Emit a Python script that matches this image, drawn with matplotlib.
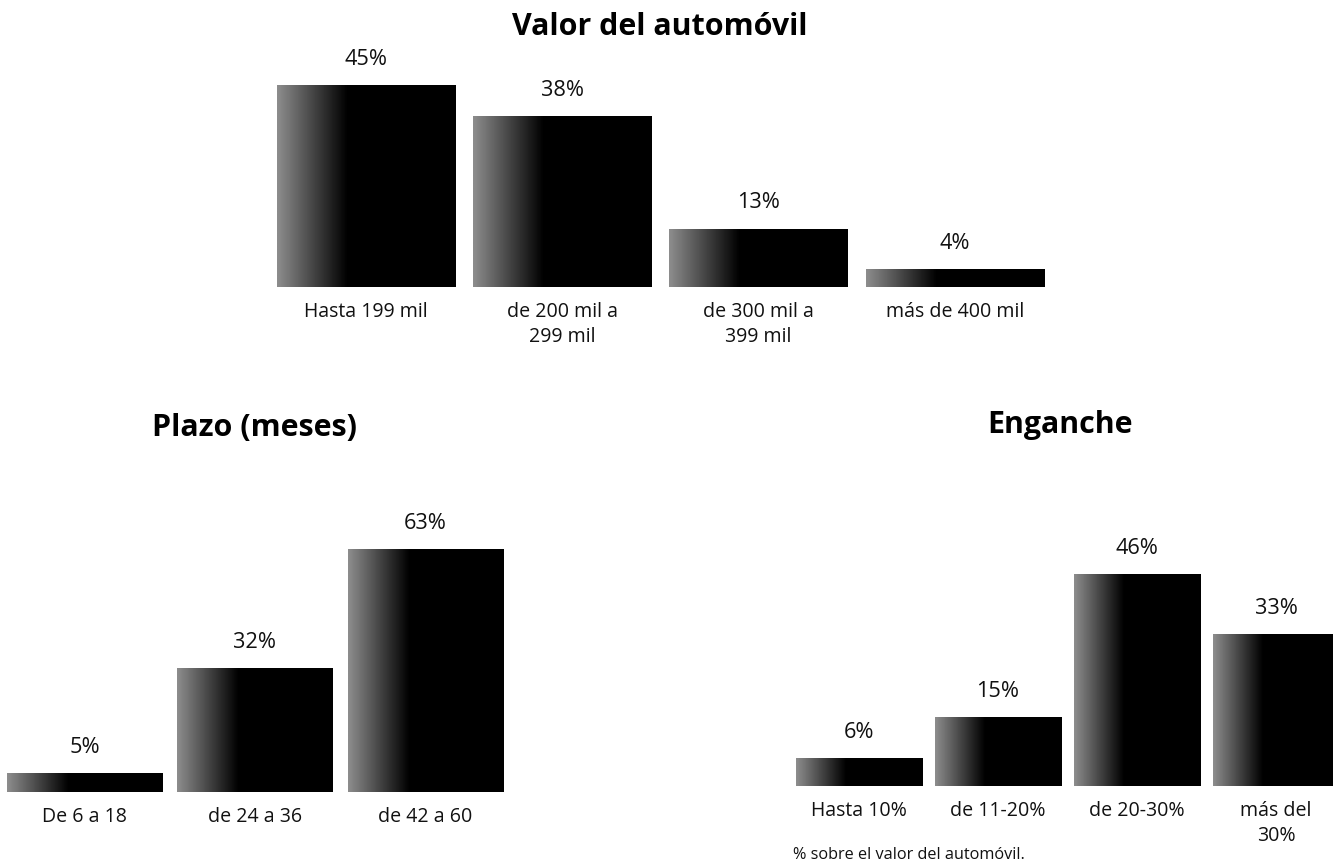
import numpy as np
import matplotlib
matplotlib.use("Agg")
import matplotlib.pyplot as plt

plt.rcParams['font.family'] = ['Open Sans', 'DejaVu Sans']

# ---- data ----
valor_cats = ["Hasta 199 mil", "de 200 mil a\n299 mil", "de 300 mil a\n399 mil", "más de 400 mil"]
valor_vals = [45, 38, 13, 4]

plazo_cats = ["De 6 a 18", "de 24 a 36", "de 42 a 60"]
plazo_vals = [5, 32, 63]

enganche_cats = ["Hasta 10%", "de 11-20%", "de 20-30%", "más del\n30%"]
enganche_vals = [6, 15, 46, 33]

titles = ["Valor del automóvil", "Plazo (meses)", "Enganche"]
footnote = "% sobre el valor del automóvil."

W, H = 1333, 863
fig = plt.figure(figsize=(W / 100, H / 100), dpi=100)
fig.patch.set_facecolor("white")
renderer = fig.canvas.get_renderer()


def fit_size(text, target_px, weight="normal"):
    t = fig.text(0, 0, text, fontsize=10, fontweight=weight)
    w = t.get_window_extent(renderer).width
    t.remove()
    return 10 * target_px / w


TITLE_FS = fit_size("Enganche", 146, "bold")
VAL_FS = fit_size("45%", 43)
CAT_FS = fit_size("De 6 a 18", 85)
NOTE_FS = fit_size(footnote, 232)


def px_axes(left, right, bottom, top):
    return fig.add_axes([left / W, 1 - bottom / H, (right - left) / W, (bottom - top) / H])


grad = np.concatenate([np.linspace(0.55, 0.0, 40), np.zeros(60)])[None, :]


def draw(ax, cats, vals, ymax, lab_off=14.5, cat_off=21.5, line_pt=18):
    x = np.arange(len(vals))
    bars = ax.bar(x, vals, width=0.91, color="black", zorder=1)
    for b in bars:
        x0, y0 = b.get_x(), b.get_y()
        im = ax.imshow(grad, cmap="gray", vmin=0, vmax=1, aspect="auto",
                       extent=(x0, x0 + b.get_width(), y0, y0 + b.get_height()),
                       interpolation="bilinear", zorder=2)
        im.set_clip_path(b)
    ax.set_xlim(-0.5, len(vals) - 0.5)
    ax.set_ylim(0, ymax)
    for xi, v in zip(x, vals):
        ax.annotate(f"{v}%", (xi, v), xytext=(0, lab_off), textcoords="offset points",
                    ha="center", va="baseline", fontsize=VAL_FS, color="#111111")
    for xi, c in zip(x, cats):
        for k, line in enumerate(c.split("\n")):
            ax.annotate(line, (xi, 0), xytext=(0, -cat_off - k * line_pt),
                        textcoords="offset points", ha="center", va="baseline",
                        fontsize=CAT_FS, color="#111111", annotation_clip=False)
    ax.axis("off")


ax1 = px_axes(268, 1053, 287, 287 - 50 * 4.49)
draw(ax1, valor_cats, valor_vals, 50)

ax2 = px_axes(-0.75, 510.75, 792, 792 - 70 * 3.86)
draw(ax2, plazo_cats, plazo_vals, 70)

ax3 = px_axes(789.5, 1345.5, 786, 786 - 50 * 4.6)
draw(ax3, enganche_cats, enganche_vals, 50)

fig.text(660 / W, 1 - 35 / H, titles[0], ha="center", va="baseline", fontsize=TITLE_FS, fontweight="bold")
fig.text(254 / W, 1 - 436 / H, titles[1], ha="center", va="baseline", fontsize=TITLE_FS, fontweight="bold")
fig.text(1060 / W, 1 - 433 / H, titles[2], ha="center", va="baseline", fontsize=TITLE_FS, fontweight="bold")
fig.text(793 / W, 1 - 855 / H, footnote, ha="left", va="center", fontsize=NOTE_FS, color="#111111")

fig.savefig("out.png", dpi=100, facecolor="white")
